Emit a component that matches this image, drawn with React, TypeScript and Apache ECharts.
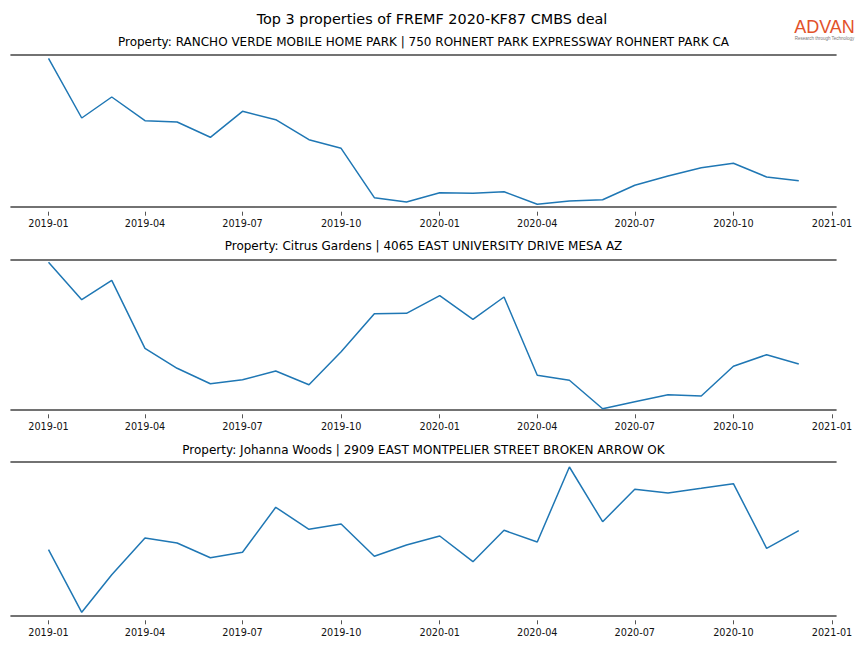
import React, { useEffect, useRef } from "react";
import * as echarts from "echarts";

const mainTitle = "Top 3 properties of FREMF 2020-KF87 CMBS deal";
const panelTitles = [
  "Property: RANCHO VERDE MOBILE HOME PARK | 750 ROHNERT PARK EXPRESSWAY ROHNERT PARK CA",
  "Property: Citrus Gardens | 4065 EAST UNIVERSITY DRIVE MESA AZ",
  "Property: Johanna Woods | 2909 EAST MONTPELIER STREET BROKEN ARROW OK",
];

// monthly observations, 2019-01 .. 2020-12
const months = [
  "2019-01", "2019-02", "2019-03", "2019-04", "2019-05", "2019-06",
  "2019-07", "2019-08", "2019-09", "2019-10", "2019-11", "2019-12",
  "2020-01", "2020-02", "2020-03", "2020-04", "2020-05", "2020-06",
  "2020-07", "2020-08", "2020-09", "2020-10", "2020-11", "2020-12",
];

const ranchoVerde = [
  148.4, 88.7, 109.7, 86, 84.7, 69.4, 95.4, 87, 67, 58.4, 9, 4.7,
  14, 13.4, 15, 2.4, 5.7, 7, 21.4, 30.7, 39, 43.4, 29.7, 26,
];
const citrusGardens = [
  147, 109.6, 129, 61, 41, 25.6, 29.6, 38.3, 24.6, 57.6, 95.6, 96,
  113.6, 90, 112.3, 34, 29, 0.6, 7.6, 14.6, 13.3, 43, 54.6, 45.3,
];
const johannaWoods = [
  65.6, 3, 40.6, 77.3, 72.3, 57.6, 63, 108, 86, 91.3, 59, 70.3,
  79.3, 53.6, 85, 73.3, 148.3, 93.6, 126, 122.3, 127, 131.6, 67, 84.6,
];

// y ranges per panel (no tick labels shown)
const yMaxes = [151.7, 149.3, 153.3];

const tickLabels = [
  "2019-01", "2019-04", "2019-07", "2019-10", "2020-01",
  "2020-04", "2020-07", "2020-10", "2021-01",
];

const seriesList = [ranchoVerde, citrusGardens, johannaWoods];

const toTs = (ym: string) => {
  const [y, m] = ym.split("-").map(Number);
  return Date.UTC(y, m - 1, 1);
};

const DAY = 86400000;

export default function App() {
  const ref = useRef<HTMLDivElement>(null);
  useEffect(() => {
    if (!ref.current) return;
    const chart = echarts.init(ref.current, undefined, { renderer: "svg" });
    const xMin = toTs("2019-01") - 35 * DAY;
    const xMax = toTs("2021-01") + 3.73 * DAY;
    const tickVals = tickLabels.map(toTs);
    const fmt = (v: number) => {
      const d = new Date(v);
      const m = d.getUTCMonth() + 1;
      return d.getUTCFullYear() + "-" + (m < 10 ? "0" + m : "" + m);
    };
    const gridTops = [55, 260, 462];
    const grids = gridTops.map((t, i) => ({
      left: 11,
      right: 28,
      top: t,
      height: yMaxes[i],
      containLabel: false,
    }));
    const xAxes: any[] = [];
    const yAxes: any[] = [];
    const series: any[] = [];
    const lineCol = "#444444";
    gridTops.forEach((_, i) => {
      const base = { type: "value", gridIndex: i, min: xMin, max: xMax, splitLine: { show: false } };
      // bottom line
      xAxes.push({
        ...base,
        position: "bottom",
        axisLine: { show: true, lineStyle: { color: lineCol, width: 1.6 } },
        axisTick: { show: false },
        axisLabel: { show: false },
      });
      // top line
      xAxes.push({
        ...base,
        position: "top",
        axisLine: { show: true, lineStyle: { color: lineCol, width: 1.6 } },
        axisTick: { show: false },
        axisLabel: { show: false },
      });
      // labelled ticks (offset below the line)
      xAxes.push({
        ...base,
        position: "bottom",
        offset: 5,
        axisLine: { show: false },
        axisTick: {
          show: true,
          length: 4,
          customValues: tickVals,
          lineStyle: { color: "#555555", width: 1 },
        },
        axisLabel: {
          show: true,
          customValues: tickVals,
          formatter: (v: number) => fmt(v),
          fontFamily: "DejaVu Sans",
          fontSize: 9.7,
          color: "#111111",
          margin: 7,
          hideOverlap: false,
        },
      });
      yAxes.push({
        type: "value",
        gridIndex: i,
        min: 0,
        max: yMaxes[i],
        show: false,
        splitLine: { show: false },
      });
      series.push({
        type: "line",
        xAxisIndex: i * 3 + 2,
        yAxisIndex: i,
        data: months.map((m, k) => [toTs(m), seriesList[i][k]]),
        showSymbol: false,
        symbol: "none",
        lineStyle: { color: "#1f77b4", width: 1.5 },
        silent: true,
      });
    });

    const titleY = [42, 246, 450];
    const graphics: any[] = [
      {
        type: "text",
        x: 432,
        y: 19,
        style: {
          text: mainTitle,
          fontFamily: "DejaVu Sans",
          fontSize: 14.4,
          fill: "#000",
          align: "center",
          verticalAlign: "middle",
        },
      },
      ...panelTitles.map((t, i) => ({
        type: "text",
        x: 423.5,
        y: titleY[i],
        style: {
          text: t,
          fontFamily: "DejaVu Sans",
          fontSize: 12,
          fill: "#000",
          align: "center",
          verticalAlign: "middle",
        },
      })),
      {
        type: "text",
        x: 824.5,
        y: 27,
        style: {
          text: "ADVAN",
          fontFamily: "Liberation Sans",
          fontSize: 18,
          fontWeight: "normal",
          fill: "#E2522A",
          align: "center",
          verticalAlign: "middle",
        },
      },
      {
        type: "text",
        x: 824.5,
        y: 38,
        style: {
          text: "Research through Technology",
          fontFamily: "Liberation Sans",
          fontSize: 4.5,
          fill: "#777777",
          align: "center",
          verticalAlign: "middle",
        },
      },
    ];

    chart.setOption({
      animation: false,
      backgroundColor: "#ffffff",
      grid: grids,
      xAxis: xAxes,
      yAxis: yAxes,
      series,
      graphic: graphics,
    });
    return () => chart.dispose();
  }, []);
  return <div ref={ref} style={{ width: 864, height: 648, position: "absolute", left: 0, top: 0 }} />;
}
